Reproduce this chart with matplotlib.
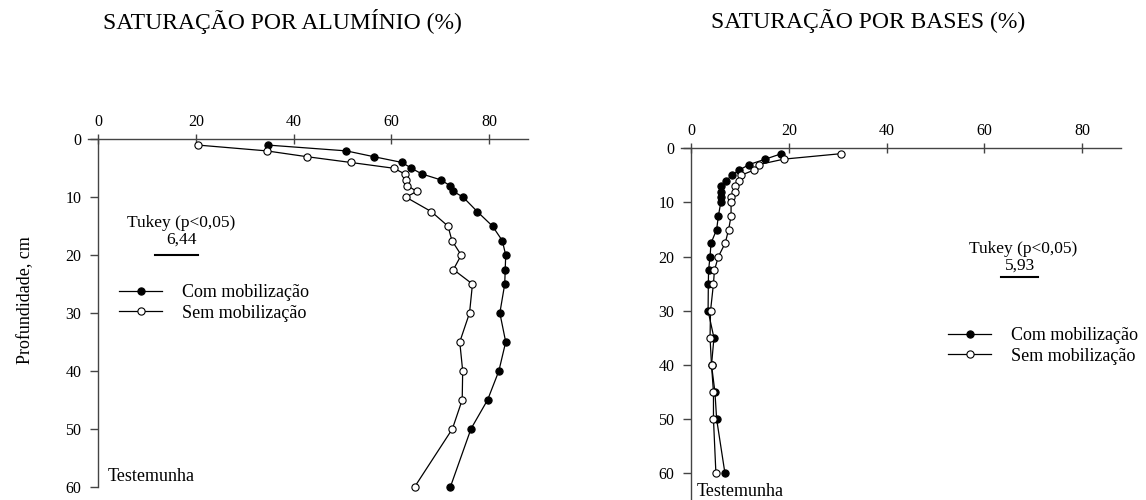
import matplotlib
matplotlib.use("Agg")
import matplotlib.pyplot as plt

plt.rcParams['font.family'] = ['Liberation Serif', 'DejaVu Serif']

# profundidade (cm)
depth = [1, 2, 3, 4, 5, 6, 7, 8, 9, 10, 12.5, 15, 17.5, 20, 22.5, 25,
         30, 35, 40, 45, 50, 60]

# Saturacao por aluminio (%)
al_com = [34.8, 50.8, 56.4, 62.2, 64.1, 66.3, 70.1, 72.0, 72.7, 74.7, 77.6,
          80.7, 82.7, 83.4, 83.3, 83.2, 82.2, 83.4, 82.0, 79.7, 76.3, 72.1]
al_sem = [20.5, 34.5, 42.7, 51.7, 60.5, 62.8, 63.1, 63.3, 65.2, 63.0, 68.2,
          71.6, 72.4, 74.3, 72.7, 76.6, 76.0, 74.0, 74.6, 74.5, 72.5, 64.8]

# Saturacao por bases (%)
vb_com = [18.5, 15.2, 11.9, 9.9, 8.3, 7.2, 6.1, 6.1, 6.1, 6.1, 5.6,
          5.25, 4.1, 3.9, 3.6, 3.55, 3.5, 4.7, 4.2, 4.9, 5.25, 6.95]
vb_sem = [30.6, 19.0, 13.9, 12.9, 10.2, 9.9, 9.0, 9.0, 8.2, 8.2, 8.2,
          7.7, 7.0, 5.6, 4.8, 4.6, 4.0, 3.9, 4.2, 4.6, 4.6, 5.1]

xticks = [0, 20, 40, 60, 80]
yticks = [0, 10, 20, 30, 40, 50, 60]

tukey_al = "6,44"
tukey_vb = "5,93"
tukey_bar_al = [11.7, 20.5]
tukey_bar_vb = [63.4, 71.0]

AXIS_COLOR = '#444444'


def style_axes(ax, ymax, ybound):
    ax.set_xlim(-2, 88)
    ax.set_ylim(ymax, 0)
    ax.spines['right'].set_visible(False)
    ax.spines['bottom'].set_visible(False)
    ax.spines['left'].set_position(('data', 0))
    ax.spines['left'].set_bounds(0, ybound)
    for s in ('top', 'left'):
        ax.spines[s].set_color(AXIS_COLOR)
        ax.spines[s].set_linewidth(1.0)
    ax.xaxis.tick_top()
    ax.set_xticks(xticks)
    ax.set_yticks(yticks)
    ax.tick_params(axis='x', direction='inout', length=7, width=1,
                   color=AXIS_COLOR, labelsize=11.5, pad=3)
    ax.tick_params(axis='y', direction='out', length=6, width=1,
                   color=AXIS_COLOR, labelsize=11.5, pad=6)
    ax.patch.set_visible(False)


def plot_series(ax, com, sem):
    ax.plot(com, depth, '-o', color='black', lw=0.9, ms=5.2,
            mfc='black', mec='black', mew=0.8, label='Com mobilização',
            clip_on=False)
    ax.plot(sem, depth, '-o', color='black', lw=0.9, ms=5.2,
            mfc='white', mec='black', mew=0.8, label='Sem mobilização',
            clip_on=False)


fig = plt.figure(figsize=(11.46, 5.0), dpi=100)

# painel esquerdo
ax1 = fig.add_axes([88.2 / 1146, (500 - 489.6) / 500, 440 / 1146, 350.3 / 500])
style_axes(ax1, 60.5, 60)
plot_series(ax1, al_com, al_sem)
ax1.text(17.0, 14.5, "Tukey (p<0,05)", ha='center', va='center', fontsize=12.5)
ax1.text(17.0, 17.3, tukey_al, ha='center', va='center', fontsize=12.5)
ax1.plot(tukey_bar_al, [20, 20], color='black', lw=1.5)
ax1.text(2.0, 58.2, "Testemunha", ha='left', va='center', fontsize=13)
ax1.legend(loc='center left', bbox_to_anchor=(0.07, 0.533), frameon=False,
           fontsize=13, borderpad=0, borderaxespad=0, handlelength=2.4,
           handletextpad=1.1, labelspacing=0.2)

# painel direito
ax2 = fig.add_axes([681.2 / 1146, 0.0, 440 / 1146, 351.7 / 500])
style_axes(ax2, 64.92, 65)
plot_series(ax2, vb_com, vb_sem)
ax2.text(68.0, 18.5, "Tukey (p<0,05)", ha='center', va='center', fontsize=12.5)
ax2.text(67.3, 21.6, tukey_vb, ha='center', va='center', fontsize=12.5)
ax2.plot(tukey_bar_vb, [23.8, 23.8], color='black', lw=1.5)
ax2.text(1.2, 63.4, "Testemunha", ha='left', va='center', fontsize=13)
ax2.legend(loc='center left', bbox_to_anchor=(0.606, 0.438), frameon=False,
           fontsize=13, borderpad=0, borderaxespad=0, handlelength=2.4,
           handletextpad=1.1, labelspacing=0.2)

# titulos e rotulo do eixo
fig.text(282 / 1146, 1 - 21 / 500, "SATURAÇÃO POR ALUMÍNIO (%)",
         ha='center', va='center', fontsize=17)
fig.text(868 / 1146, 1 - 21 / 500, "SATURAÇÃO POR BASES (%)",
         ha='center', va='center', fontsize=17)
fig.text(26 / 1146, 0.4, "Profundidade, cm", rotation=90,
         ha='center', va='center', fontsize=13)

fig.savefig("out.png", dpi=100)
